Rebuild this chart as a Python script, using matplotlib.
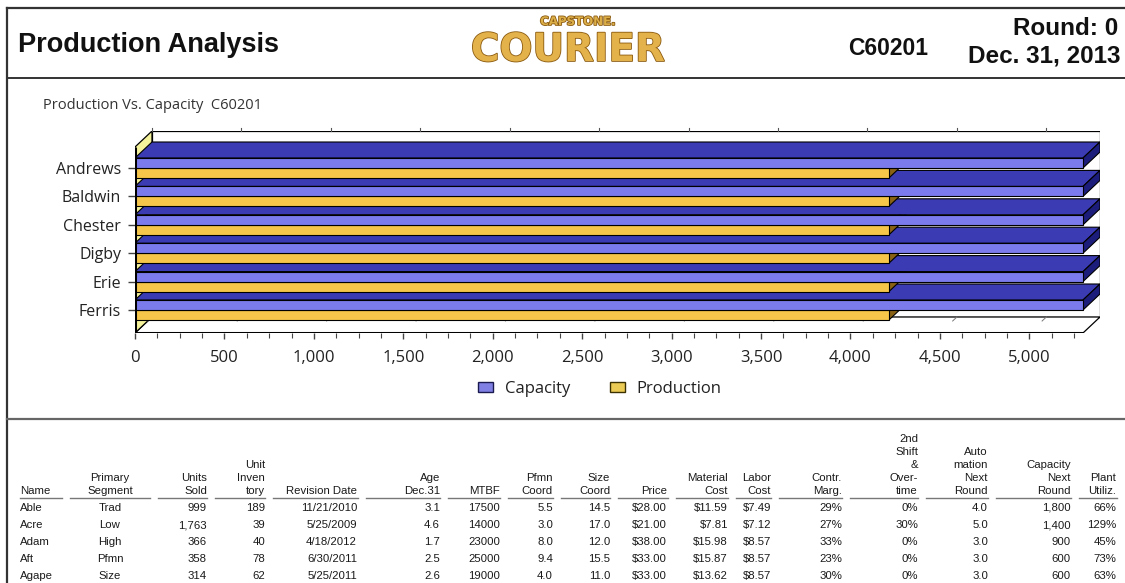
import numpy as np
import matplotlib
matplotlib.use("Agg")
import matplotlib.pyplot as plt
from matplotlib.patches import Polygon, Rectangle, Patch
from matplotlib.lines import Line2D
import matplotlib.patheffects as pe

W, H = 1125, 583

# ---- chart data ----
companies = ["Andrews", "Baldwin", "Chester", "Digby", "Erie", "Ferris"]
capacity = [5300, 5300, 5300, 5300, 5300, 5300]
production = [4215, 4215, 4215, 4215, 4215, 4215]
x_ticks = [0, 500, 1000, 1500, 2000, 2500, 3000, 3500, 4000, 4500, 5000]
axis_max = 5300

# ---- table data ----
headers = ["Name", "Primary\nSegment", "Units\nSold", "Unit\nInven\ntory", "Revision Date",
           "Age\nDec.31", "MTBF", "Pfmn\nCoord", "Size\nCoord", "Price", "Material\nCost",
           "Labor\nCost", "Contr.\nMarg.", "2nd\nShift\n&\nOver-\ntime", "Auto\nmation\nNext\nRound",
           "Capacity\nNext\nRound", "Plant\nUtiliz."]
names = ["Able", "Acre", "Adam", "Aft", "Agape"]
segments = ["Trad", "Low", "High", "Pfmn", "Size"]
units_sold = [999, 1763, 366, 358, 314]
inventory = [189, 39, 40, 78, 62]
revision = ["11/21/2010", "5/25/2009", "4/18/2012", "6/30/2011", "5/25/2011"]
age = [3.1, 4.6, 1.7, 2.5, 2.6]
mtbf = [17500, 14000, 23000, 25000, 19000]
pfmn = [5.5, 3.0, 8.0, 9.4, 4.0]
size = [14.5, 17.0, 12.0, 15.5, 11.0]
price = [28.00, 21.00, 38.00, 33.00, 33.00]
material = [11.59, 7.81, 15.98, 15.87, 13.62]
labor = [7.49, 7.12, 8.57, 8.57, 8.57]
contr = [29, 27, 33, 23, 30]
overtime = [0, 30, 0, 0, 0]
automation = [4.0, 5.0, 3.0, 3.0, 3.0]
cap_next = [1800, 1400, 900, 600, 600]
utiliz = [66, 129, 45, 73, 63]

columns = [
    names,
    segments,
    [f"{v:,}" for v in units_sold],
    [str(v) for v in inventory],
    revision,
    [f"{v:.1f}" for v in age],
    [str(v) for v in mtbf],
    [f"{v:.1f}" for v in pfmn],
    [f"{v:.1f}" for v in size],
    [f"${v:.2f}" for v in price],
    [f"${v:.2f}" for v in material],
    [f"${v:.2f}" for v in labor],
    [f"{v}%" for v in contr],
    [f"{v}%" for v in overtime],
    [f"{v:.1f}" for v in automation],
    [f"{v:,}" for v in cap_next],
    [f"{v}%" for v in utiliz],
]
# column anchor (px), alignment and underline extent (px)
col_x = [20, 110, 207, 265, 357, 440, 500, 553, 610, 667, 728, 771, 842, 918, 988, 1071, 1116]
col_align = ["left", "center"] + ["right"] * 15
ul_start = [20, 70, 158, 215, 273, 366, 448, 508, 561, 618, 676, 736, 779, 850, 926, 996, 1079]
ul_end = [62, 150, 207, 265, 358, 440, 500, 553, 610, 668, 728, 771, 842, 918, 988, 1071, 1117]

CAP_FRONT, CAP_TOP, CAP_SIDE = "#7b7bee", "#3b3bb3", "#1c1c7a"
PRO_FRONT, PRO_TOP, PRO_SIDE = "#f6c64a", "#a87c22", "#8a6214"
WALL = "#f4f29a"

chart_font = ["Open Sans", "DejaVu Sans"]
table_font = ["Liberation Sans", "DejaVu Sans"]


def fx(px):
    return px / W


def fy(py):
    return 1 - py / H


fig = plt.figure(figsize=(W / 100, H / 100), dpi=100)
fig.patch.set_facecolor("white")

# ---- page frame ----
for (x0, y0, x1, y1, c, lw) in [(7, 8, 1125, 8, "#333333", 1.6), (7, 8, 7, 583, "#333333", 1.6),
                                (7, 78, 1125, 78, "#333333", 1.4), (7, 419, 1125, 419, "#666666", 1.6)]:
    fig.add_artist(Line2D([fx(x0), fx(x1)], [fy(y0), fy(y1)], color=c, lw=lw))

# ---- header ----
fig.text(fx(18), fy(52), "Production Analysis", family=table_font, weight="bold",
         fontsize=19.5, color="#111111", va="baseline", ha="left")
gold = [pe.withStroke(linewidth=1.2, foreground="#8a5a10")]
fig.text(fx(578), fy(25), "CAPSTONE.", family="DejaVu Sans", weight="bold", fontsize=8.5,
         color="#dcae48", va="baseline", ha="center", path_effects=gold)
fig.text(fx(568), fy(61), "COURIER", family="DejaVu Sans", weight="bold", fontsize=28,
         color="#e4b24a", va="baseline", ha="center", path_effects=gold)
fig.text(fx(848), fy(55), "C60201", family=table_font, weight="bold", fontsize=16.5,
         color="#111111", va="baseline", ha="left")
fig.text(fx(1118), fy(35), "Round: 0", family=table_font, weight="bold", fontsize=17.5,
         color="#111111", va="baseline", ha="right")
fig.text(fx(1120), fy(62), "Dec. 31, 2013", family=table_font, weight="bold", fontsize=17.5,
         color="#111111", va="baseline", ha="right")

fig.text(fx(43), fy(109), "Production Vs. Capacity  C60201", family=chart_font, fontsize=10.5,
         color="#333333", va="baseline", ha="left")

# ---- 3D bar chart ----
ax_l, ax_r, ax_t, ax_b = 135, 1100, 131, 333
depth_px_x, depth_px_y = 17, 16
cat_px = 28.4
ax = fig.add_axes([fx(ax_l), fy(ax_b), fx(ax_r) - fx(ax_l), fy(ax_t) - fy(ax_b)])
DX = depth_px_x * axis_max / (ax_r - ax_l - depth_px_x)
DY = depth_px_y / cat_px
BH = 10 / cat_px
ylo = -(ax_b - 310) / cat_px
yhi = (len(companies) - 1) + (168 - ax_t) / cat_px
ax.set_xlim(0, axis_max + DX)
ax.set_ylim(ylo, yhi)
for s in ax.spines.values():
    s.set_visible(False)
ax.patch.set_visible(False)

# back wall, floor, left wall
ax.add_patch(Rectangle((DX, ylo + DY), axis_max, yhi - ylo - DY, fc="white", ec="black", lw=0.9, zorder=1))
ax.add_patch(Polygon([(0, ylo), (axis_max, ylo), (axis_max + DX, ylo + DY), (DX, ylo + DY)],
                     fc="white", ec="black", lw=0.9, zorder=1))
ax.add_patch(Polygon([(0, ylo), (0, yhi - DY), (DX, yhi), (DX, ylo + DY)],
                     fc=WALL, ec="black", lw=0.9, zorder=1))
# small grid stubs on the back wall top and floor
for t in x_ticks:
    ax.plot([t + DX, t + DX], [yhi, yhi + 0.12], color="#555555", lw=0.8, clip_on=False, zorder=1)
    ax.plot([t + DX, t + DX * 0.75], [ylo + DY, ylo + DY * 0.75], color="#777777", lw=0.7, zorder=1)


def bar3d(y0, y1, v, front, top, side, z):
    ax.add_patch(Polygon([(0, y1), (v, y1), (v + DX, y1 + DY), (DX, y1 + DY)],
                         fc=top, ec="black", lw=0.8, zorder=z))
    ax.add_patch(Polygon([(v, y0), (v, y1), (v + DX, y1 + DY), (v + DX, y0 + DY)],
                         fc=side, ec="black", lw=0.8, zorder=z))
    ax.add_patch(Rectangle((0, y0), v, y1 - y0, fc=front, ec="black", lw=0.8, zorder=z))


ypos = np.arange(len(companies))[::-1]
z = 2
for i in np.argsort(ypos):
    c = ypos[i]
    bar3d(c - BH, c, production[i], PRO_FRONT, PRO_TOP, PRO_SIDE, z)
    bar3d(c, c + BH, capacity[i], CAP_FRONT, CAP_TOP, CAP_SIDE, z + 1)
    z += 2

# front axis lines
ax.plot([0, axis_max], [ylo, ylo], color="black", lw=2.2, zorder=z, solid_capstyle="butt")
ax.plot([0, 0], [ylo, yhi - DY], color="black", lw=2.2, zorder=z, solid_capstyle="butt")

ax.set_xticks(x_ticks)
ax.set_xticklabels([f"{t:,}" for t in x_ticks], family=chart_font, fontsize=12, color="#222222")
minor = [m for m in np.arange(0, axis_max + 1, 125) if m not in x_ticks]
ax.set_xticks(minor, minor=True)
ax.set_yticks(ypos)
ax.set_yticklabels(companies, family=chart_font, fontsize=11.5, color="#222222")
ax.tick_params(axis="x", which="major", length=4.5, width=1, color="#444444", pad=8)
ax.tick_params(axis="x", which="minor", length=3.5, width=0.8, color="#444444")
ax.tick_params(axis="y", length=5, width=1, color="#444444", pad=5)

legend_handles = [Patch(fc="#8080e4", ec="#1a1a50", lw=1, label="Capacity"),
                  Patch(fc="#eccb55", ec="#3a3000", lw=1, label="Production")]
leg = fig.legend(handles=legend_handles, loc="center", bbox_to_anchor=(fx(600), fy(389)), ncol=2,
                 frameon=False, handlelength=0.9, handleheight=0.6, handletextpad=0.7,
                 columnspacing=2.4, prop={"family": chart_font, "size": 12})
for t in leg.get_texts():
    t.set_color("#222222")

# ---- table ----
head_base, head_step = 494, 13
row_base, row_step = 511, 17
for j, head in enumerate(headers):
    lines = head.split("\n")
    for k, line in enumerate(lines):
        yb = head_base - (len(lines) - 1 - k) * head_step
        fig.text(fx(col_x[j]), fy(yb), line, family=table_font, fontsize=8.2,
                 color="#1a1a1a", ha=col_align[j], va="baseline")
    fig.add_artist(Line2D([fx(ul_start[j]), fx(ul_end[j])], [fy(498), fy(498)], color="#777777", lw=1))
    for r, val in enumerate(columns[j]):
        fig.text(fx(col_x[j]), fy(row_base + r * row_step), val, family=table_font, fontsize=8.2,
                 color="#1a1a1a", ha=col_align[j], va="baseline")

fig.savefig("out.png", dpi=100)
